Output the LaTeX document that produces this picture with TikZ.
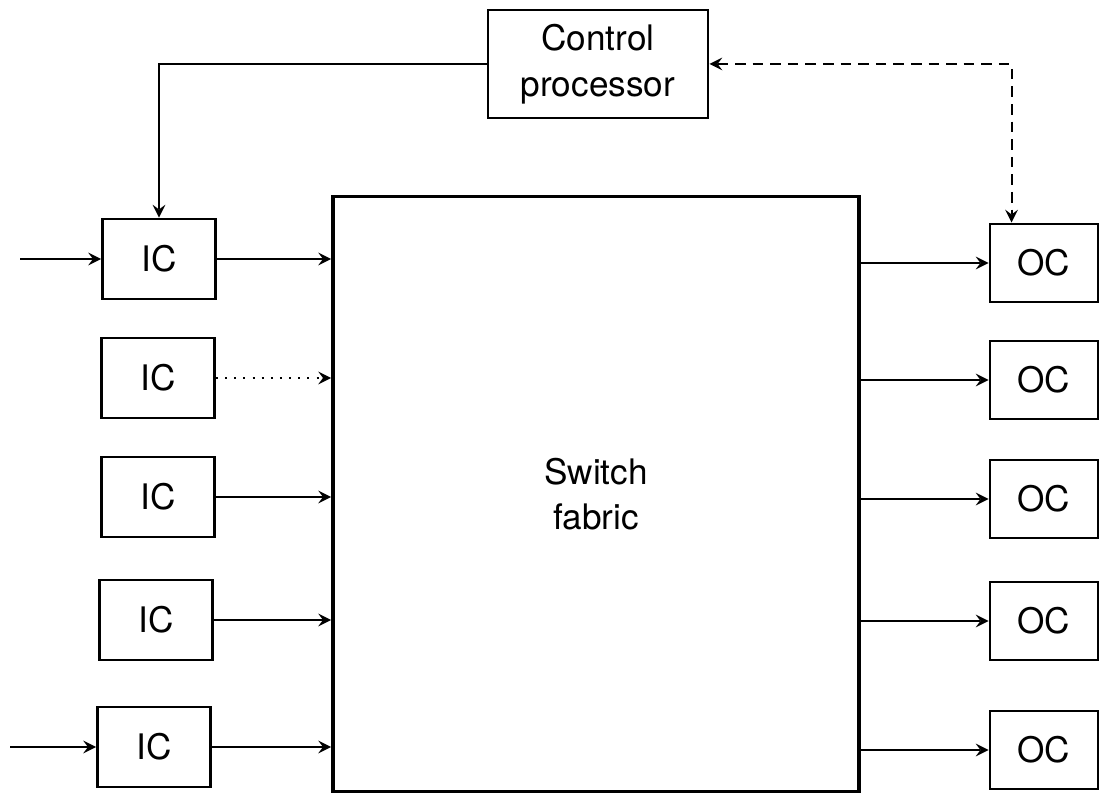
\documentclass[tikz,border=0pt]{standalone}
\usepackage{fontspec}
\setmainfont{TeX Gyre Heros}

\begin{document}
\begin{tikzpicture}[
    x=0.01cm, y=-0.01cm,
    box/.style={draw, line width=0.8pt, inner sep=0pt, align=center, font=\fontsize{10}{13}\selectfont},
    ic/.style={box, minimum width=1.13cm, minimum height=0.8cm},
    oc/.style={box, minimum width=1.08cm, minimum height=0.78cm},
    link/.style={line width=0.6pt},
    >=stealth
]
\useasboundingbox (0,0) rectangle (1102,798);

% Controle
\node[box, minimum width=2.2cm, minimum height=1.08cm] (cp) at (598,64) {Control\\processor};

% Matriz de comutacao
\node[box, line width=1pt, minimum width=5.26cm, minimum height=5.95cm] (sf) at (596,494) {Switch\\fabric};

% Entradas (IC)
\node[ic] (ic1) at (159,259) {IC};
\node[ic] (ic2) at (158,378) {IC};
\node[ic] (ic3) at (158,497) {IC};
\node[ic] (ic4) at (156,620) {IC};
\node[ic] (ic5) at (154,747) {IC};

% Saidas (OC)
\node[oc] (oc1) at (1044,263) {OC};
\node[oc] (oc2) at (1044,380) {OC};
\node[oc] (oc3) at (1044,499) {OC};
\node[oc] (oc4) at (1044,621) {OC};
\node[oc] (oc5) at (1044,750) {OC};

% Pontas livres
\coordinate (in1) at (20,259);
\coordinate (in5) at (10,747);

% --- Ligacoes de entrada ---
\draw[link, ->] (in1) -- (ic1);
\draw[link, ->] (in5) -- (ic5);

\draw[link, ->] (ic1) -- (sf.west |- ic1);
\draw[link, dotted, ->] (ic2) -- (sf.west |- ic2);
\draw[link, ->] (ic3) -- (sf.west |- ic3);
\draw[link, ->] (ic4) -- (sf.west |- ic4);
\draw[link, ->] (ic5) -- (sf.west |- ic5);

% --- Ligacoes de saida ---
\draw[link, ->] (sf.east |- oc1) -- (oc1);
\draw[link, ->] (sf.east |- oc2) -- (oc2);
\draw[link, ->] (sf.east |- oc3) -- (oc3);
\draw[link, ->] (sf.east |- oc4) -- (oc4);
\draw[link, ->] (sf.east |- oc5) -- (oc5);

% --- Sinais de controle ---
\draw[link, ->] (cp.west) -| (ic1.north);
\draw[link, densely dashed, <->] (cp.east) -| ([xshift=0.23cm]oc1.north west);

\end{tikzpicture}
\end{document}
